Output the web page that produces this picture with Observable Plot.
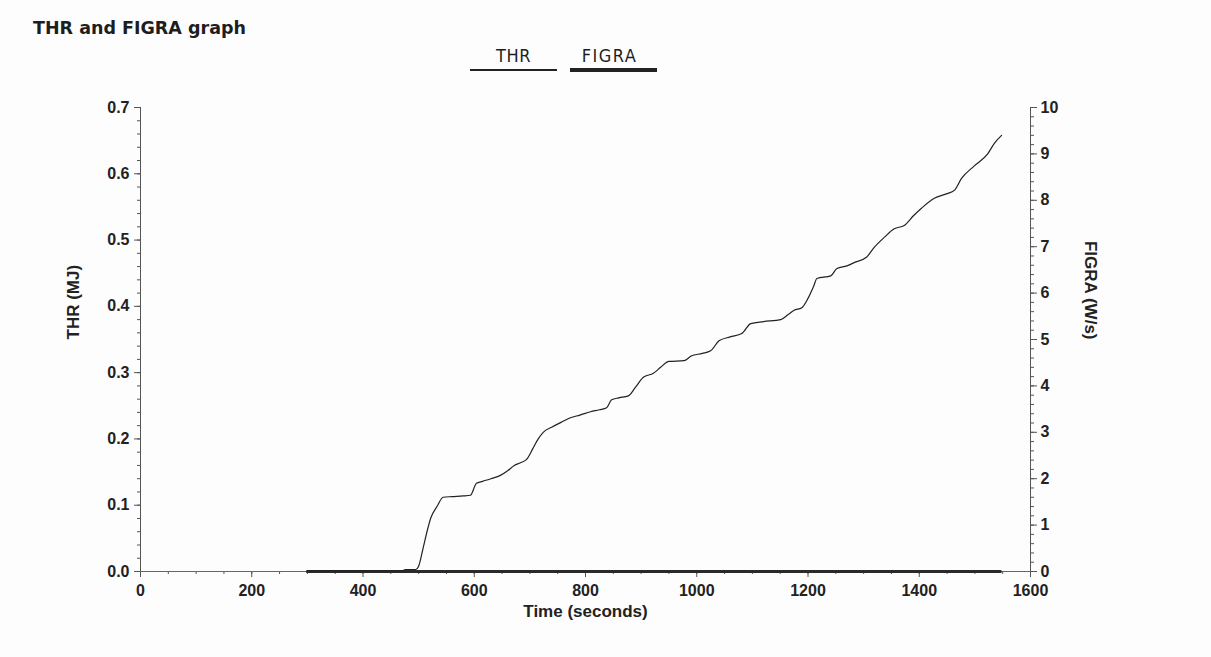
<!DOCTYPE html>
<html>
<head>
<meta charset="utf-8">
<script src="https://cdn.jsdelivr.net/npm/d3@7"></script>
<script src="https://cdn.jsdelivr.net/npm/@observablehq/plot@0.6"></script>
<style>
  html, body { margin: 0; padding: 0; background: #fdfdfe; }
  #hdr { position: relative; width: 1211px; height: 85px; }
  #title { position: absolute; left: 33px; top: 18px; font-family: "DejaVu Sans", sans-serif; font-weight: bold; font-size: 17.5px; color: #1e1e1e; }
  .lg { position: absolute; top: 45px; height: 28px; width: 87px; }
  .lg span { position: absolute; left: 0; right: 0; top: 0; text-align: center; font-family: "DejaVu Sans Condensed", "DejaVu Sans", sans-serif; font-size: 18px; color: #1e1e1e; line-height: 22px; }
  .lg i { position: absolute; left: 0; right: 0; background: #222; }
  #chart svg g[aria-label="y-axis tick label"] text,
  #chart svg g[aria-label="x-axis tick label"] text { font-size: 16px; }
</style>
</head>
<body>
<div id="hdr">
  <div id="title">THR and FIGRA graph</div>
  <div class="lg" style="left:470px"><span style="letter-spacing:0.5px">THR</span><i style="top:24px;height:1.6px"></i></div>
  <div class="lg" style="left:570px"><span style="letter-spacing:1.5px;left:-8px">FIGRA</span><i style="top:23px;height:4px"></i></div>
</div>
<div id="chart"></div>
<script>
// THR (MJ) versus time (s)
const thrTime = [300, 470, 476, 495, 500, 508, 515, 522, 533, 544, 560, 580, 593, 604, 615, 630, 647, 660, 672, 683, 695, 705, 715, 724, 740, 756, 773, 790, 809, 825, 838, 847, 860, 877, 890, 904, 922, 935, 950, 977, 990, 1010, 1025, 1040, 1060, 1081, 1097, 1120, 1151, 1165, 1175, 1189, 1200, 1210, 1216, 1241, 1252, 1270, 1283, 1305, 1319, 1337, 1355, 1373, 1390, 1404, 1427, 1450, 1463, 1476, 1499, 1523, 1535, 1548];
const thrValue = [0.001, 0.001, 0.003, 0.003, 0.008, 0.035, 0.060, 0.081, 0.098, 0.112, 0.113, 0.114, 0.115, 0.133, 0.136, 0.140, 0.145, 0.152, 0.160, 0.164, 0.170, 0.185, 0.200, 0.210, 0.218, 0.225, 0.232, 0.236, 0.241, 0.244, 0.247, 0.259, 0.262, 0.265, 0.278, 0.293, 0.299, 0.308, 0.317, 0.318, 0.325, 0.329, 0.333, 0.348, 0.354, 0.359, 0.374, 0.377, 0.380, 0.388, 0.394, 0.398, 0.412, 0.430, 0.442, 0.446, 0.457, 0.461, 0.466, 0.474, 0.489, 0.504, 0.517, 0.522, 0.537, 0.548, 0.563, 0.570, 0.575, 0.593, 0.612, 0.630, 0.646, 0.658];

// FIGRA (W/s) versus time (s)
const figraTime = [300, 600, 900, 1200, 1546];
const figraValue = [0, 0, 0, 0, 0];

// tick labels
const xTicks = [0, 200, 400, 600, 800, 1000, 1200, 1400, 1600];
const thrTicks = [0.0, 0.1, 0.2, 0.3, 0.4, 0.5, 0.6, 0.7];
const figraTicks = [0, 1, 2, 3, 4, 5, 6, 7, 8, 9, 10];

const thrMax = 0.7, figraMax = 10;
const k = thrMax / figraMax; // FIGRA -> THR scale factor

const thrData = thrTime.map((t, i) => ({t, v: thrValue[i]}));
const figraData = figraTime.map((t, i) => ({t, v: figraValue[i] * k}));

const xMinor = d3.range(0, 1600.1, 50);
const yMinor = d3.range(0, 35.1, 1).map(i => i * 0.02);
const fMinor = d3.range(0, 50.1, 1).map(i => i * 0.2 * k);

const tickFont = {fontSize: 16, fontWeight: "bold", fill: "#222"};

const chart = Plot.plot({
  width: 1211,
  height: 572,
  marginLeft: 140,
  marginRight: 181,
  marginTop: 22,
  marginBottom: 86,
  style: {fontFamily: "Arial, 'Liberation Sans', sans-serif", fontWeight: "bold", fontSize: "16px", color: "#222", background: "transparent"},
  x: {domain: [0, 1600]},
  y: {domain: [0, thrMax]},
  marks: [
    Plot.axisX({ticks: xMinor, tickSize: 3, tickFormat: () => "", label: null, stroke: "#555"}),
    Plot.axisX({ticks: xTicks, tickSize: 6, tickPadding: 7, tickFormat: d => String(d), label: null, stroke: "#555", ...tickFont}),
    Plot.axisY({anchor: "left", ticks: yMinor, tickSize: 3, tickFormat: () => "", label: null, stroke: "#555"}),
    Plot.axisY({anchor: "left", ticks: thrTicks, tickSize: 6, tickPadding: 5, tickFormat: d3.format(".1f"), label: null, stroke: "#555", ...tickFont}),
    Plot.axisY({anchor: "right", ticks: fMinor, tickSize: 3, tickFormat: () => "", label: null, stroke: "#555"}),
    Plot.axisY({anchor: "right", ticks: figraTicks.map(v => v * k), tickSize: 6, tickPadding: 4, tickFormat: d => String(Math.round(d / k)), label: null, stroke: "#555", ...tickFont}),
    Plot.ruleX([0, 1600], {stroke: "#555", strokeWidth: 1}),
    Plot.ruleY([0], {stroke: "#666", strokeWidth: 1}),
    Plot.line(figraData, {x: "t", y: "v", stroke: "#2a2a2a", strokeWidth: 3}),
    Plot.line(thrData, {x: "t", y: "v", stroke: "#222", strokeWidth: 1.2, curve: "monotone-x"}),
    Plot.text(["THR (MJ)"], {text: d => d, frameAnchor: "left", dx: -67, rotate: -90, fontSize: 17, fontWeight: "bold", fill: "#222"}),
    Plot.text(["FIGRA (W/s)"], {text: d => d, frameAnchor: "right", dx: 60, rotate: 90, fontSize: 17, fontWeight: "bold", fill: "#222"}),
    Plot.text(["Time (seconds)"], {text: d => d, frameAnchor: "bottom", dy: 45, fontSize: 17, fontWeight: "bold", fill: "#222"})
  ]
});
document.getElementById("chart").appendChild(chart);
</script>
</body>
</html>
